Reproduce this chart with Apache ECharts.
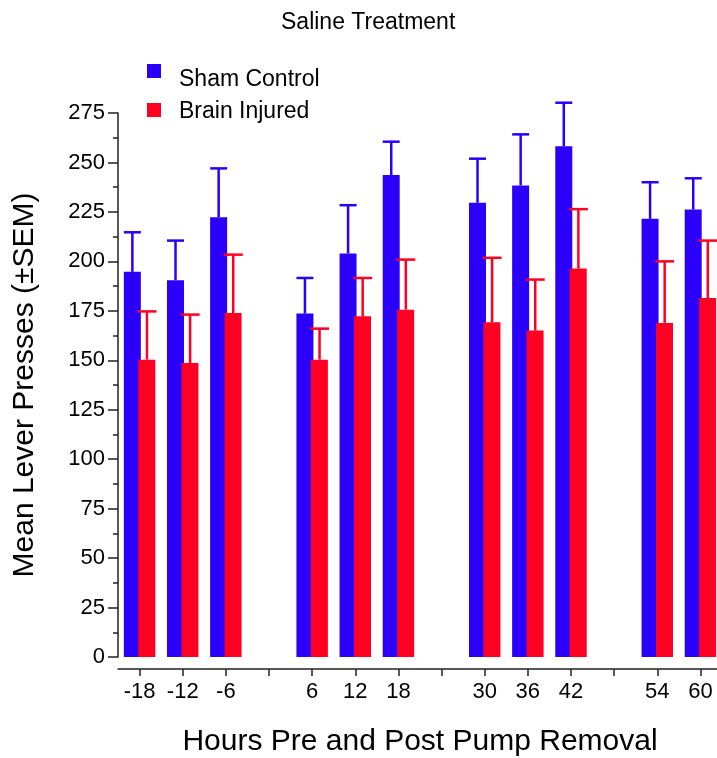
<!DOCTYPE html>
<html>
<head>
<meta charset="utf-8">
<script src="https://cdn.jsdelivr.net/npm/echarts@6/dist/echarts.min.js"></script>
<style>
  html, body { margin: 0; padding: 0; background: #fff; }
  #main { width: 717px; height: 758px; }
</style>
</head>
<body>
<div id="main"></div>
<script>
// hours relative to pump removal; 0, 24, 48 are empty slots (tick only)
var hours = ['-18', '-12', '-6', '0', '6', '12', '18', '24', '30', '36', '42', '48', '54', '60'];
var emptySlots = ['0', '24', '48'];

var shamMean = [194.7, 190.4, 222.3, null, 173.6, 204.0, 243.6, null, 229.6, 238.4, 258.2, null, 221.5, 226.2];
var shamSem  = [20.0, 20.1, 24.7, null, 18.0, 24.4, 16.9, null, 22.3, 25.8, 22.0, null, 18.5, 15.8];
var injMean  = [150.3, 148.6, 173.9, null, 150.3, 172.2, 175.6, null, 169.2, 165.0, 196.4, null, 168.9, 181.5];
var injSem   = [24.4, 24.5, 29.5, null, 15.7, 19.4, 25.3, null, 32.6, 25.8, 30.0, null, 31.1, 29.0];

var BLUE = '#2a00fb';
var RED = '#ff0022';
var FONT = 'Liberation Sans, Arial, Helvetica, sans-serif';

// legend squares sit a bit above their text in the original,
// so the icon path carries an invisible dot below the square
var ICON_SHAM = 'path://M0,0h14v14h-14z M7,32h0.01v-0.01z';
var ICON_INJ = 'path://M0,0h14v14h-14z M7,17h0.01v-0.01z';

var chart = echarts.init(document.getElementById('main'));

function barData(arr) {
  return arr.map(function (v) { return v == null ? '-' : v; });
}

function errData(mean, sem) {
  var out = [];
  for (var i = 0; i < mean.length; i++) {
    if (mean[i] != null) out.push([i, mean[i], sem[i]]);
  }
  return out;
}

// upper error bar only, with a cap
function errRender(shift, capW, color) {
  return function (params, api) {
    var x = api.coord([api.value(0), 0])[0] + shift;
    var yMid = api.coord([api.value(0), api.value(1)])[1];
    var yTop = api.coord([api.value(0), api.value(1) + api.value(2)])[1];
    var st = { stroke: color, lineWidth: 2.5 };
    return {
      type: 'group',
      children: [
        { type: 'line', shape: { x1: x, y1: yMid, x2: x, y2: yTop }, style: st },
        { type: 'line', shape: { x1: x - capW / 2, y1: yTop, x2: x + capW / 2, y2: yTop }, style: st }
      ]
    };
  };
}

chart.setOption({
  animation: false,
  backgroundColor: '#fff',
  textStyle: { fontFamily: FONT, color: '#000' },
  title: {
    text: 'Saline Treatment',
    left: 276,
    top: 6,
    textStyle: { fontFamily: FONT, fontSize: 23, fontWeight: 'normal', color: '#000' }
  },
  legend: [{
    data: [{ name: 'Sham Control', icon: ICON_SHAM }],
    left: 147,
    top: 64,
    padding: 0,
    itemWidth: 14,
    itemHeight: 32,
    textStyle: { fontFamily: FONT, fontSize: 23, color: '#000', padding: [0, 0, 0, 13] }
  }, {
    data: [{ name: 'Brain Injured', icon: ICON_INJ }],
    left: 147,
    top: 100,
    padding: 0,
    itemWidth: 14,
    itemHeight: 17,
    textStyle: { fontFamily: FONT, fontSize: 23, color: '#000', padding: [0, 0, 0, 13] }
  }],
  grid: { left: 118, right: -5, top: 113, bottom: 101, outerBoundsMode: 'none', containLabel: false },
  xAxis: {
    type: 'category',
    data: hours,
    boundaryGap: true,
    offset: 12,
    name: 'Hours Pre and Post Pump Removal',
    nameLocation: 'middle',
    nameGap: 58,
    nameTextStyle: { fontFamily: FONT, fontSize: 30, color: '#000' },
    axisLine: { show: true, onZero: false, lineStyle: { color: '#222', width: 1.5 } },
    axisTick: { show: true, alignWithLabel: true, interval: 0, length: 7, lineStyle: { color: '#222', width: 1.5 } },
    axisLabel: {
      interval: 0,
      margin: 12,
      fontFamily: FONT,
      fontSize: 22,
      color: '#000',
      formatter: function (v) { return emptySlots.indexOf(v) >= 0 ? '' : v; }
    },
    splitLine: { show: false }
  },
  yAxis: {
    type: 'value',
    min: 0,
    max: 275,
    interval: 25,
    name: 'Mean Lever Presses (\u00b1SEM)',
    nameLocation: 'middle',
    nameGap: 78,
    nameTextStyle: { fontFamily: FONT, fontSize: 30, color: '#000' },
    axisLine: { show: true, lineStyle: { color: '#222', width: 1.5 } },
    axisTick: { show: true, length: 10, lineStyle: { color: '#222', width: 1.5 } },
    minorTick: { show: true, splitNumber: 2, length: 5, lineStyle: { color: '#222', width: 1.5 } },
    axisLabel: { margin: 13, fontFamily: FONT, fontSize: 22, color: '#000' },
    splitLine: { show: false }
  },
  series: [{
    name: 'Sham Control',
    type: 'bar',
    data: barData(shamMean),
    barWidth: 17,
    barGap: '-15%',
    itemStyle: { color: BLUE }
  }, {
    name: 'Brain Injured',
    type: 'bar',
    data: barData(injMean),
    barWidth: 17,
    itemStyle: { color: RED }
  }, {
    type: 'custom',
    name: 'Sham SEM',
    data: errData(shamMean, shamSem),
    renderItem: errRender(-7.2, 17, BLUE),
    z: 5,
    clip: false,
    silent: true
  }, {
    type: 'custom',
    name: 'Injured SEM',
    data: errData(injMean, injSem),
    renderItem: errRender(7.4, 19, RED),
    z: 5,
    clip: false,
    silent: true
  }]
});
</script>
</body>
</html>
